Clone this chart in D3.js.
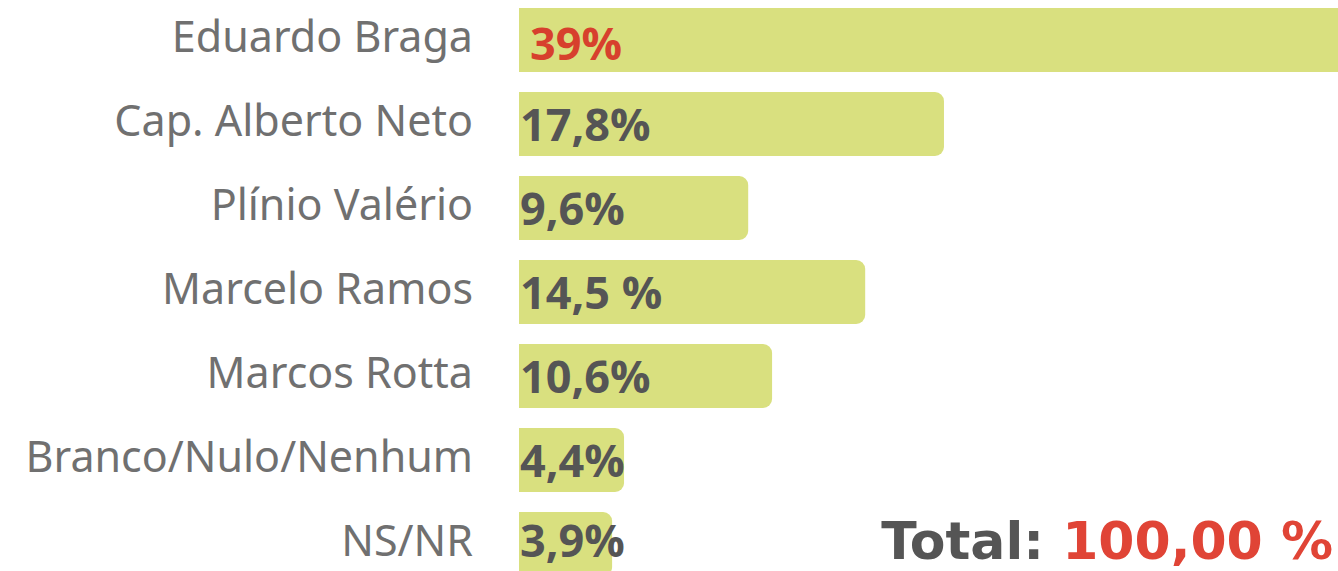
<!DOCTYPE html>
<html>
<head>
<meta charset="utf-8">
<script src="https://cdn.jsdelivr.net/npm/d3@7"></script>
<style>
  html, body { margin: 0; padding: 0; background: #fff; overflow: hidden; }
  svg { display: block; }
</style>
</head>
<body>
<svg id="chart" width="1338" height="571"></svg>
<script>
// Intenção de voto — candidatos e percentuais
const candidates = ["Eduardo Braga", "Cap. Alberto Neto", "Plínio Valério", "Marcelo Ramos",
                    "Marcos Rotta", "Branco/Nulo/Nenhum", "NS/NR"];
const values = [39, 17.8, 9.6, 14.5, 10.6, 4.4, 3.9];
const valueLabels = ["39%", "17,8%", "9,6%", "14,5 %", "10,6%", "4,4%", "3,9%"];
const totalLabel = "Total:";
const totalValue = "100,00 %";

const W = 1338, H = 571;
const svg = d3.select("#chart");

const x = d3.scaleLinear().domain([0, 40]).range([519, 1474]);
const y = d3.scaleBand().domain(candidates).range([8, 576]).paddingInner(20 / 84).paddingOuter(0);

const rows = candidates.map((c, i) => ({ name: c, value: values[i], label: valueLabels[i], i }));

// bar shape: square on the left, rounded on the right
function barPath(x0, y0, w, h, r) {
  r = Math.min(r, w, h / 2);
  return `M${x0},${y0}H${x0 + w - r}A${r},${r} 0 0 1 ${x0 + w},${y0 + r}` +
         `V${y0 + h - r}A${r},${r} 0 0 1 ${x0 + w - r},${y0 + h}H${x0}Z`;
}

const g = svg.append("g");

g.selectAll("path.bar")
  .data(rows)
  .join("path")
  .attr("class", "bar")
  .attr("fill", "#d9e07f")
  .attr("d", d => barPath(x(0), y(d.name), x(d.value) - x(0), y.bandwidth(), 9));

// candidate names
g.selectAll("text.name")
  .data(rows)
  .join("text")
  .attr("class", "name")
  .attr("x", 473)
  .attr("y", d => y(d.name) + 44)
  .attr("text-anchor", "end")
  .attr("font-family", "'Noto Sans', sans-serif")
  .attr("font-size", 43)
  .attr("fill", "#707070")
  .text(d => d.name);

// percentage labels (kept clear of the bottom edge)
g.selectAll("text.val")
  .data(rows)
  .join("text")
  .attr("class", "val")
  .attr("x", d => d.i === 0 ? x(0) + 11 : x(0) + 1)
  .attr("y", d => d.i === 0 ? y(d.name) + 52 : Math.min(y(d.name) + 49, H - 14))
  .attr("font-family", "'Open Sans', sans-serif")
  .attr("font-weight", 700)
  .attr("font-size", 45)
  .attr("fill", d => d.i === 0 ? "#d7402d" : "#555555")
  .text(d => d.label);

// total
const total = svg.append("text")
  .attr("x", 1333)
  .attr("y", 559)
  .attr("text-anchor", "end")
  .attr("font-family", "'DejaVu Sans', sans-serif")
  .attr("font-weight", 700)
  .attr("font-size", 52);
total.append("tspan").attr("fill", "#555555").text(totalLabel + " ");
total.append("tspan").attr("fill", "#e04436").text(totalValue);
</script>
</body>
</html>
